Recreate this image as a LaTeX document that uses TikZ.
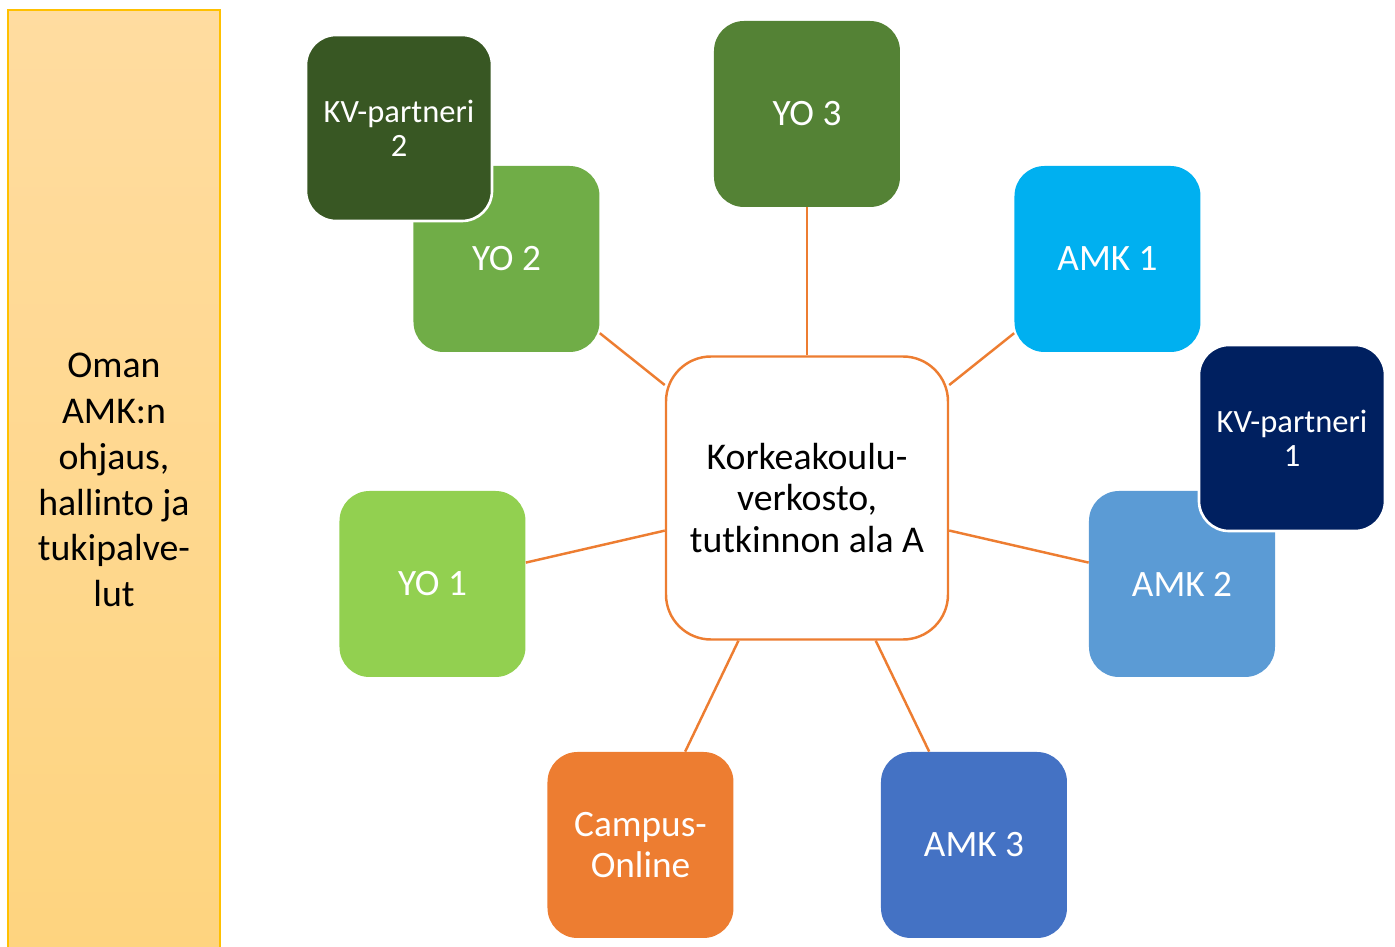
\documentclass[tikz,border=0pt]{standalone}
\usepackage{fontspec}
\setmainfont{Carlito}
\usetikzlibrary{shapes,arrows}
\definecolor{spoke}{HTML}{ED7D31}
\definecolor{kvtwo}{HTML}{385723}
\definecolor{yotwo}{HTML}{70AD47}
\definecolor{yothree}{HTML}{548235}
\definecolor{yoone}{HTML}{92D050}
\definecolor{amkone}{HTML}{00B0F0}
\definecolor{amktwo}{HTML}{5B9BD5}
\definecolor{amkthree}{HTML}{4472C4}
\definecolor{kvone}{HTML}{002060}
\definecolor{bartop}{HTML}{FFDCA0}
\definecolor{barbot}{HTML}{FED47F}
\definecolor{barline}{HTML}{FFC000}
\tikzstyle{tile} = [rectangle, rounded corners=0.6cm, minimum width=3.72cm,
    minimum height=3.72cm, inner sep=0pt, text=white, align=center,
    font=\fontsize{21.2}{23.2}\selectfont]
\tikzstyle{partner} = [tile, draw=white, line width=1.5pt, font=\fontsize{18.5}{19.3}\selectfont]
\tikzstyle{hubbox} = [rectangle, draw=spoke, line width=1.4pt, fill=white,
    rounded corners=0.9cm, minimum width=5.64cm, minimum height=5.66cm,
    align=center, font=\fontsize{21.5}{23.8}\selectfont]
\tikzstyle{bar} = [rectangle, draw=barline, line width=0.6pt, top color=bartop,
    bottom color=barbot, minimum width=4.24cm, minimum height=18.8cm,
    align=center, font=\fontsize{21.5}{26.1}\selectfont]
\tikzstyle{link} = [draw=spoke, line width=1.4pt]

\begin{document}
\begin{tikzpicture}[node distance = 2cm, auto]
    \useasboundingbox (-16.14,-8.98) rectangle (11.76,9.96);
    % Place nodes
    \node [hubbox] (hub) {Korkeakoulu-\\verkosto,\\tutkinnon ala A};
    \node [bar, left of=hub, node distance=13.86cm, yshift=0.36cm] (steer) {Oman\\AMK:n\\ohjaus,\\hallinto ja\\tukipalve-\\lut};
    \node [tile, fill=yothree, above of=hub, node distance=7.68cm] (yo3) {YO 3};
    \node [tile, fill=yotwo, left of=hub, node distance=6.01cm, yshift=4.78cm] (yo2) {YO 2};
    \node [partner, fill=kvtwo, left of=yo2, node distance=2.15cm, yshift=2.62cm] (kv2) {KV-partneri\\2};
    \node [tile, fill=amkone, right of=hub, node distance=6.01cm, yshift=4.78cm] (amk1) {AMK 1};
    \node [tile, fill=amktwo, right of=hub, node distance=7.5cm, yshift=-1.72cm] (amk2) {AMK 2};
    \node [partner, fill=kvone, right of=amk2, node distance=2.2cm, yshift=2.92cm] (kv1) {KV-partneri\\1};
    \node [tile, fill=yoone, left of=hub, node distance=7.49cm, yshift=-1.72cm] (yo1) {YO 1};
    \node [tile, fill=spoke, below of=hub, node distance=6.94cm, xshift=-3.33cm] (campus) {Campus-\\Online};
    \node [tile, fill=amkthree, below of=hub, node distance=6.94cm, xshift=3.34cm] (amk3) {AMK 3};
    % Draw edges
    \path [link] (hub) -- (yo3);
    \path [link] (hub) -- (yo2);
    \path [link] (hub) -- (amk1);
    \path [link] (hub) -- (yo1);
    \path [link] (hub) -- (amk2);
    \path [link] (hub) -- (campus);
    \path [link] (hub) -- (amk3);
\end{tikzpicture}
\end{document}
